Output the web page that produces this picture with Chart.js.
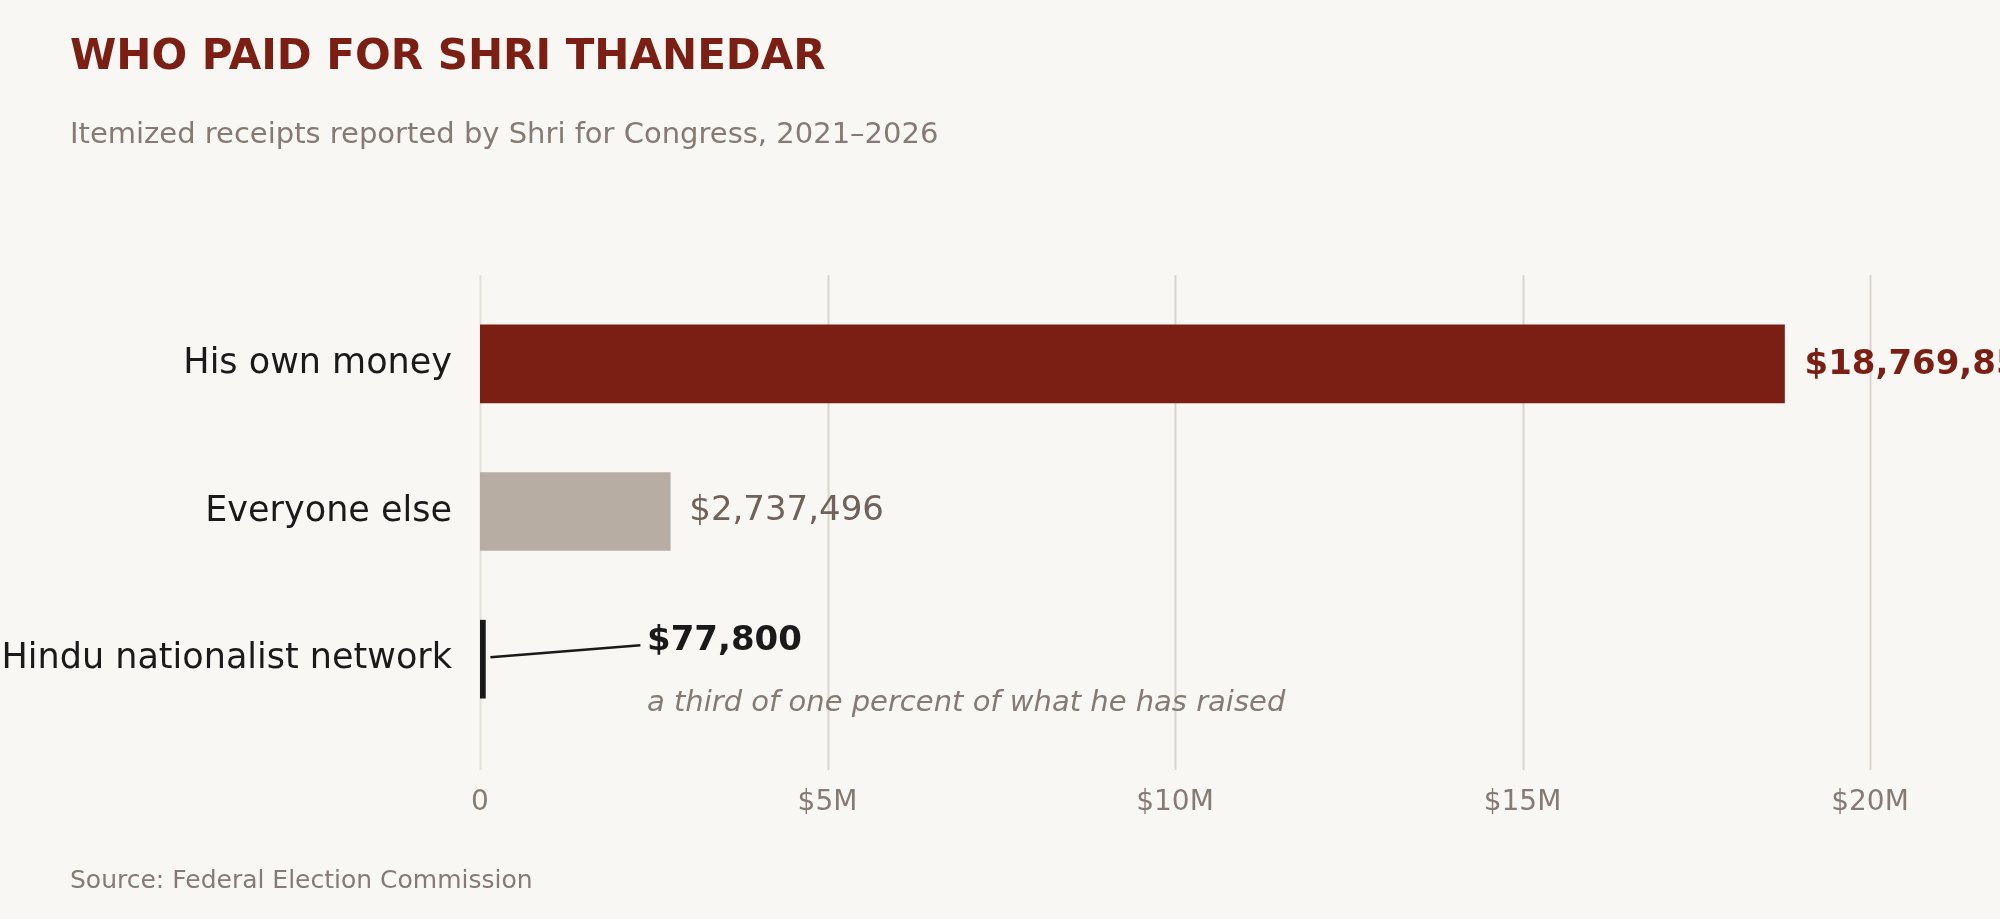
<!DOCTYPE html>
<html lang="en">
<head>
<meta charset="UTF-8">
<title>Who paid for Shri Thanedar</title>
<script src="https://cdn.jsdelivr.net/npm/chart.js"></script>
<style>
  html, body { margin: 0; padding: 0; background: #f8f7f4; font-family: "DejaVu Sans", sans-serif; }
  #wrap { position: relative; width: 2000px; height: 919px; }
  canvas { position: absolute; left: 0; top: 0; }
  .t { position: absolute; left: 70px; white-space: nowrap; }
  #title { top: 30px; font-size: 42px; font-weight: bold; color: #7b1f14; }
  #sub { top: 116px; font-size: 29px; color: #857a74; }
  #src { top: 865px; font-size: 25px; color: #857a74; }
</style>
</head>
<body>
<div id="wrap">
  <canvas id="c" width="2000" height="919"></canvas>
  <div class="t" id="title">WHO PAID FOR SHRI THANEDAR</div>
  <div class="t" id="sub">Itemized receipts reported by Shri for Congress, 2021–2026</div>
  <div class="t" id="src">Source: Federal Election Commission</div>
</div>
<script>
const categories = ['His own money', 'Everyone else', 'Hindu nationalist network'];
const amounts = [18769850, 2737496, 77800];
const valueLabels = ['$18,769,850', '$2,737,496', '$77,800'];
const tickLabels = { 0: '0', 5000000: '$5M', 10000000: '$10M', 15000000: '$15M', 20000000: '$20M' };
const barColors = ['#7b1f14', '#b8ada3', '#1a1a1a'];
const note = 'a third of one percent of what he has raised';

const FONT = '"DejaVu Sans", sans-serif';

const gridPlugin = {
  id: 'grid',
  beforeDatasetsDraw(chart) {
    const x = chart.scales.x, ctx = chart.ctx;
    ctx.save();
    ctx.lineWidth = 2;
    for (const v of [0, 5e6, 10e6, 15e6, 20e6]) {
      const px = Math.round(x.getPixelForValue(v)) + 0.5;
      ctx.strokeStyle = v === 0 ? '#e4e0da' : '#d9d4ce';
      ctx.beginPath(); ctx.moveTo(px, 275); ctx.lineTo(px, 770); ctx.stroke();
    }
    ctx.restore();
  }
};

const labelPlugin = {
  id: 'labels',
  afterDatasetsDraw(chart) {
    const ctx = chart.ctx, meta = chart.getDatasetMeta(0);
    ctx.save();
    ctx.textBaseline = 'middle';
    ctx.textAlign = 'left';
    let b = meta.data[0];
    ctx.font = 'bold 34px ' + FONT; ctx.fillStyle = '#7b1f14';
    ctx.fillText(valueLabels[0], b.x + 20, b.y + 1);
    b = meta.data[1];
    ctx.font = '34px ' + FONT; ctx.fillStyle = '#6e625a';
    ctx.fillText(valueLabels[1], b.x + 19, b.y);
    b = meta.data[2];
    ctx.strokeStyle = '#1a1a1a'; ctx.lineWidth = 2.5;
    ctx.beginPath(); ctx.moveTo(b.x + 5, b.y - 2); ctx.lineTo(b.x + 155, b.y - 14); ctx.stroke();
    ctx.font = 'bold 34px ' + FONT; ctx.fillStyle = '#1a1a1a';
    ctx.fillText(valueLabels[2], 647, b.y - 18);
    ctx.font = 'italic 29px ' + FONT; ctx.fillStyle = '#857a74';
    ctx.fillText(note, 647, b.y + 44);
    ctx.restore();
  }
};

new Chart(document.getElementById('c'), {
  type: 'bar',
  data: {
    labels: categories,
    datasets: [{ data: amounts, backgroundColor: barColors, barThickness: 78 }]
  },
  options: {
    indexAxis: 'y',
    responsive: false,
    animation: false,
    layout: { padding: { top: 290, right: 130, bottom: 0, left: 0 } },
    plugins: { legend: { display: false }, tooltip: { enabled: false } },
    scales: {
      x: {
        min: 0, max: 20000000,
        grid: { display: false },
        border: { display: false },
        afterFit: s => { s.height = 186; },
        ticks: {
          stepSize: 5000000,
          padding: 45,
          color: '#857a74',
          font: { family: FONT, size: 28 },
          callback: v => tickLabels[v]
        }
      },
      y: {
        grid: { display: false },
        border: { display: false },
        afterFit: s => { s.width = 480; },
        ticks: {
          padding: 20,
          color: '#1a1a1a',
          font: { family: FONT, size: 35 }
        }
      }
    }
  },
  plugins: [gridPlugin, labelPlugin]
});
</script>
</body>
</html>
